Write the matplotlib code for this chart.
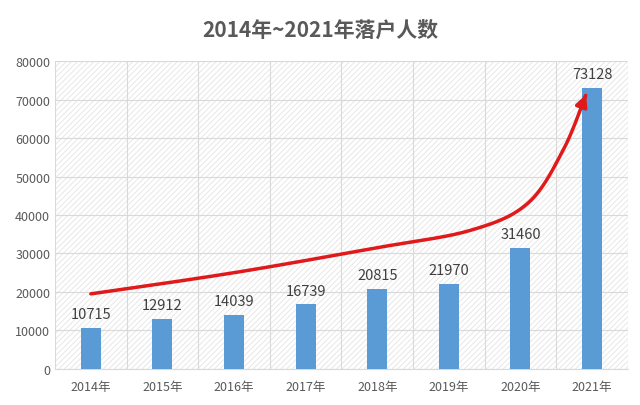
import numpy as np
import matplotlib.pyplot as plt
from matplotlib.patches import Rectangle

plt.rcParams['font.family'] = ['Noto Sans CJK SC', 'DejaVu Sans']
plt.rcParams['hatch.color'] = '#e4e4e4'
plt.rcParams['hatch.linewidth'] = 0.6

# ---------------------------------------------------------------------------
# Data
# ---------------------------------------------------------------------------
years = ["2014年", "2015年", "2016年", "2017年", "2018年", "2019年", "2020年", "2021年"]
counts = [10715, 12912, 14039, 16739, 20815, 21970, 31460, 73128]
# hand-drawn trend arrow (category index, value)
trend_x = [0.0, 2.0, 4.0, 5.3, 6.1, 6.6, 6.93]
trend_y = [19500, 25000, 31500, 36000, 43000, 57000, 72000]


def catmull_rom(xs, ys, n=30):
    px = np.array([xs[0]] + list(xs) + [xs[-1]])
    py = np.array([ys[0]] + list(ys) + [ys[-1]])
    t = np.linspace(0, 1, n)
    ox, oy = [], []
    for i in range(1, len(px) - 2):
        for arr, out in ((px, ox), (py, oy)):
            p0, p1, p2, p3 = arr[i - 1:i + 3]
            out.extend(0.5 * (2 * p1 + (-p0 + p2) * t
                              + (2 * p0 - 5 * p1 + 4 * p2 - p3) * t ** 2
                              + (-p0 + 3 * p1 - 3 * p2 + p3) * t ** 3))
    return np.array(ox), np.array(oy)


fig = plt.figure(figsize=(6.4, 4.06), dpi=100)
ax = fig.add_axes([0.086, 0.089, 0.895, 0.758])

x = np.arange(len(years))
ax.add_patch(Rectangle((0, 0), 1, 1, transform=ax.transAxes, facecolor='white',
                       hatch='//////', edgecolor='#e4e4e4', linewidth=0, zorder=0))
ax.bar(x, counts, width=0.28, color='#5b9bd5', zorder=3)
for xi, v in zip(x, counts):
    ax.text(xi, v + 1800, str(v), ha='center', va='bottom', fontsize=10.5,
            color='#404040', zorder=4)

cx, cy = catmull_rom(trend_x, trend_y)
ax.plot(cx[:-3], cy[:-3], color='#e0191b', lw=2.5, zorder=5, solid_capstyle='round')
ax.annotate('', xy=(cx[-1], cy[-1]), xytext=(cx[-6], cy[-6]),
            arrowprops=dict(arrowstyle='-|>,head_length=0.7,head_width=0.35',
                            color='#e0191b', lw=2.5), zorder=6)

ax.set_xlim(-0.5, len(years) - 0.5)
ax.set_ylim(0, 80000)
ax.set_yticks(range(0, 80001, 10000))
ax.set_xticks(x)
ax.set_xticklabels(years)
ax.set_xticks(np.arange(-0.5, len(years), 1), minor=True)
ax.tick_params(axis='both', which='both', length=0, labelsize=9, colors='#595959')
ax.tick_params(axis='x', which='major', pad=8)
ax.grid(True, axis='y', color='#d9d9d9', lw=0.8, zorder=1)
ax.grid(True, axis='x', which='minor', color='#d9d9d9', lw=0.8, zorder=1)
for s in ['top', 'right', 'left']:
    ax.spines[s].set_visible(False)
ax.spines['bottom'].set_color('#d9d9d9')

fig.text(0.5, 0.925, '2014年~2021年落户人数', ha='center', va='center',
         fontsize=15, fontweight='bold', color='#595959')

fig.savefig('out.png', dpi=100)
